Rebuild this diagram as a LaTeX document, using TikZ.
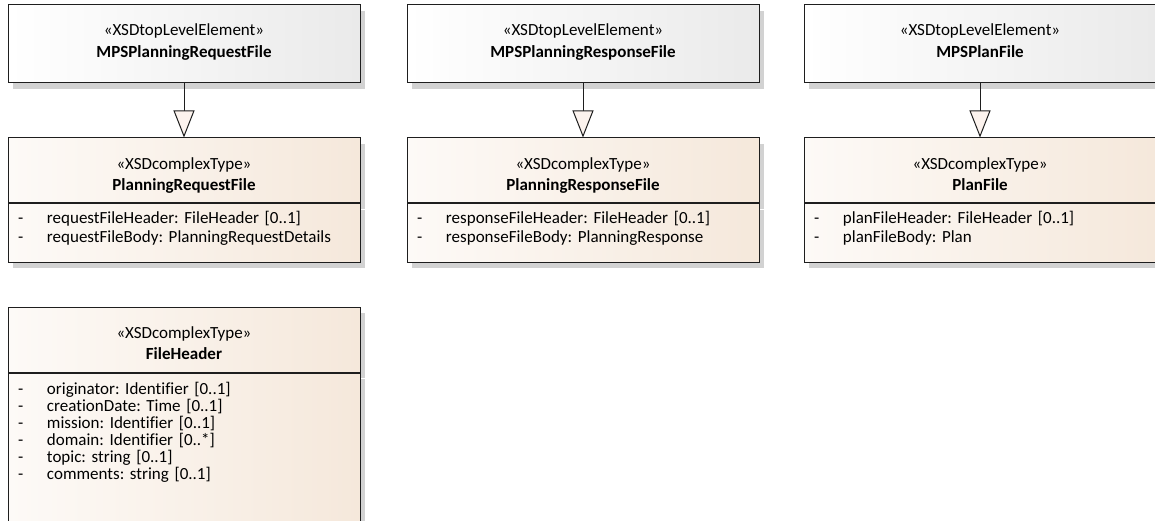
\documentclass[tikz,border=0pt]{standalone}
\usepackage{fontspec}
\setmainfont{Carlito}[Ligatures=NoCommon]
\frenchspacing
\usetikzlibrary{arrows.meta,positioning,shadows}
\definecolor{elemright}{HTML}{EAEAEA}
\definecolor{typeleft}{HTML}{FDFAF7}
\definecolor{typeright}{HTML}{F5E8DB}
\definecolor{shadowgrey}{HTML}{D2D2D2}
\definecolor{tipfill}{HTML}{FCF3EE}
\definecolor{edge}{HTML}{1E1E1E}
\newcommand{\elemtext}[1]{\rule{0pt}{31pt}«XSDtopLevelElement»\\[5pt]\textbf{#1}\rule[-25pt]{0pt}{25pt}}
\newcommand{\typetext}[1]{\rule{0pt}{31.5pt}«XSDcomplexType»\\[4pt]\textbf{#1}\rule[-12.5pt]{0pt}{12.5pt}}
\newcommand{\attr}[1]{\makebox[29pt][l]{-}#1}

\begin{document}
\begin{tikzpicture}[x=1pt,y=-1pt,
  font=\fontsize{17}{17}\selectfont,
  box/.style={draw=edge,line width=1pt,minimum width=352pt,text width=332pt,
    inner xsep=10pt,inner ysep=0pt,
    drop shadow={shadow xshift=5pt,shadow yshift=-6pt,fill=shadowgrey,opacity=1}},
  elembox/.style={box,align=center,left color=white,right color=elemright},
  typebox/.style={box,align=center,left color=typeleft,right color=typeright},
  attrbox/.style={box,align=left,left color=typeleft,right color=typeright},
  genarrow/.style={draw=edge,line width=1pt,-{Triangle[open,length=27pt,width=21pt,fill=tipfill]}}]
\fill[white] (0,0) rectangle (1155,521);
\useasboundingbox (0,0) rectangle (1155,521);
\clip (0,0) rectangle (1155,521);

\node[elembox] (reqtop) at (184,44) {\elemtext{MPSPlanningRequestFile}};
\node[elembox,right=46pt of reqtop] (resptop) {\elemtext{MPSPlanningResponseFile}};
\node[elembox,right=44pt of resptop] (plantop) {\elemtext{MPSPlanFile}};

\node[typebox,below=54pt of reqtop] (reqhead) {\typetext{PlanningRequestFile}};
\node[attrbox,below=0pt of reqhead] (reqattr) {\rule{0pt}{20pt}\attr{requestFileHeader: FileHeader [0..1]}\\[1pt]
  \attr{requestFileBody: PlanningRequestDetails}\rule[-20pt]{0pt}{20pt}};

\node[typebox,below=54pt of resptop] (resphead) {\typetext{PlanningResponseFile}};
\node[attrbox,below=0pt of resphead] (respattr) {\rule{0pt}{20pt}\attr{responseFileHeader: FileHeader [0..1]}\\[1pt]
  \attr{responseFileBody: PlanningResponse}\rule[-20pt]{0pt}{20pt}};

\node[typebox,below=54pt of plantop] (planhead) {\typetext{PlanFile}};
\node[attrbox,below=0pt of planhead] (planattr) {\rule{0pt}{20pt}\attr{planFileHeader: FileHeader [0..1]}\\[1pt]
  \attr{planFileBody: Plan}\rule[-20pt]{0pt}{20pt}};

\node[typebox,below=44pt of reqattr] (fhhead) {\typetext{FileHeader}};
\node[attrbox,below=0pt of fhhead] (fhattr) {\rule{0pt}{21.5pt}\attr{originator: Identifier [0..1]}\\
  \attr{creationDate: Time [0..1]}\\
  \attr{mission: Identifier [0..1]}\\
  \attr{domain: Identifier [0..*]}\\
  \attr{topic: string [0..1]}\\
  \attr{comments: string [0..1]}\rule[-55.5pt]{0pt}{55.5pt}};

\draw[genarrow] (reqtop) -- (reqhead);
\draw[genarrow] (resptop) -- (resphead);
\draw[genarrow] (plantop) -- (planhead);
\end{tikzpicture}
\end{document}
